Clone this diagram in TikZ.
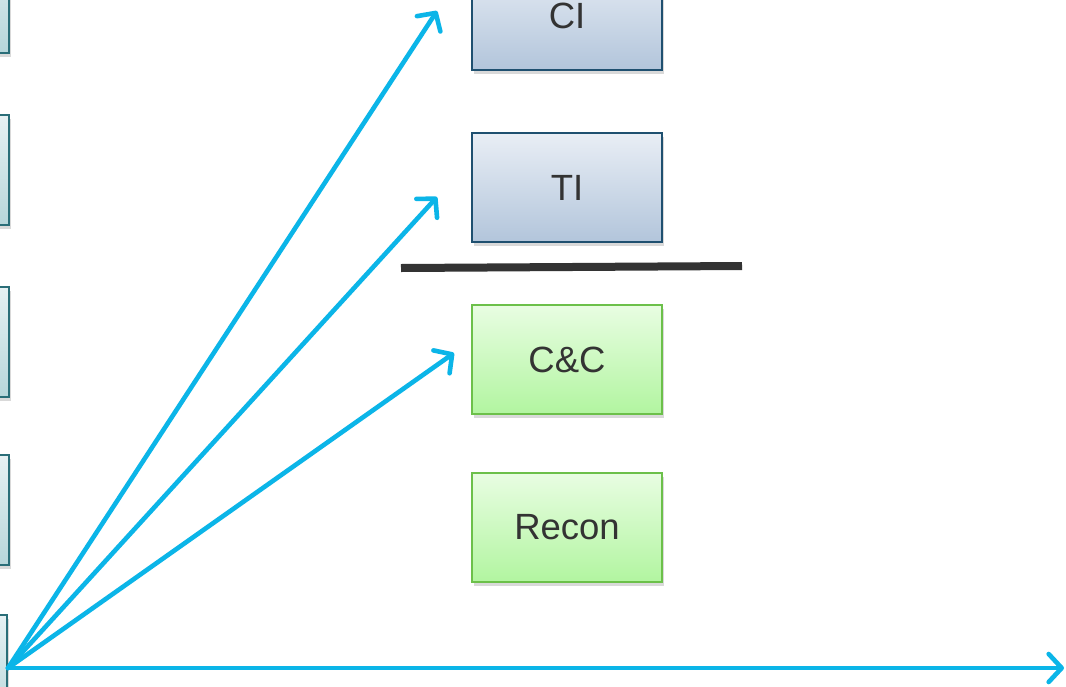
\documentclass[tikz,border=0pt]{standalone}
\usepackage{fontspec}
\setmainfont{Liberation Sans}
\usetikzlibrary{arrows.meta,shadows}
\definecolor{arrowc}{HTML}{0BB5E8}
\definecolor{txtc}{HTML}{333333}
\definecolor{blueB}{HTML}{1F5070}
\definecolor{blueT}{HTML}{E9EEF5}
\definecolor{blueBt}{HTML}{B2C5DB}
\definecolor{greenB}{HTML}{6CC04A}
\definecolor{greenT}{HTML}{E8FDE2}
\definecolor{greenBt}{HTML}{B2F5A0}
\definecolor{tealB}{HTML}{2A6E78}
\definecolor{tealT}{HTML}{E6F1F3}
\definecolor{tealBt}{HTML}{B6D6DA}
\definecolor{barc}{HTML}{333333}
\tikzset{
  box/.style={rectangle, minimum width=190pt, minimum height=109pt, line width=1.5pt,
    font=\fontsize{36.5}{42}\selectfont, text=txtc,
    drop shadow={shadow xshift=2pt, shadow yshift=-4pt, opacity=0.15, fill=black}},
  bluebox/.style={box, draw=blueB, top color=blueT, bottom color=blueBt},
  greenbox/.style={box, draw=greenB, top color=greenT, bottom color=greenBt},
  tealbox/.style={box, minimum height=110pt, draw=tealB, top color=tealT, bottom color=tealBt},
  arr/.style={draw=arrowc, line width=4.6pt, line cap=round,
    -{Straight Barb[length=13pt, width=28pt, line width=4.6pt, round]}},
}
\begin{document}
\begin{tikzpicture}[x=1pt,y=-1pt]
\useasboundingbox (0,0) rectangle (1066,686);
\clip (0,0) rectangle (1066,686);
\fill[white] (0,0) rectangle (1066,686);
% left partial boxes
\node[tealbox] (l1) at (-86,-2) {};
\node[tealbox] (l2) at (-86,170) {};
\node[tealbox] (l3) at (-86,342) {};
\node[tealbox] (l4) at (-86,510) {};
\node[tealbox] (l5) at (-88,670) {};
% right boxes
\node[bluebox] (ci) at (567,15.5) {CI};
\node[bluebox] (ti) at (567,187.5) {TI};
\node[greenbox] (cc) at (567,359.5) {C\&C};
\node[greenbox] (rc) at (567,527.5) {Recon};
% bar
\coordinate (b1) at (401,268);
\coordinate (b2) at (742,266);
\draw[barc, line width=8pt, drop shadow={shadow xshift=1pt, shadow yshift=-3pt, opacity=0.15}] (b1) -- (b2);
% arrows
\coordinate (o) at (8,668);
\coordinate (e1) at (437,11);
\coordinate (e2) at (437,197);
\coordinate (e3) at (454,353);
\coordinate (e4) at (1064,668);
\draw[arr] (o) -- (e1);
\draw[arr] (o) -- (e2);
\draw[arr] (o) -- (e3);
\draw[arr] (o) -- (e4);
\end{tikzpicture}
\end{document}
